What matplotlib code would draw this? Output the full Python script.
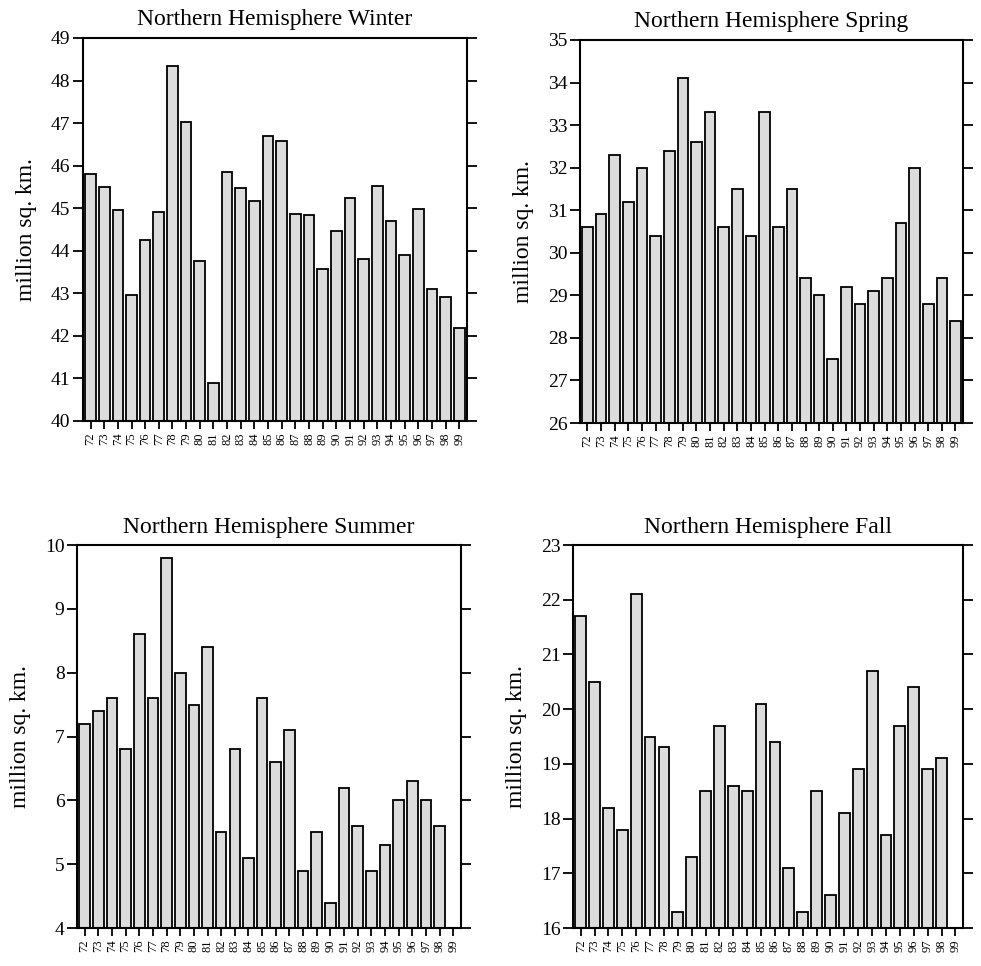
import matplotlib.pyplot as plt
import numpy as np

years = [str(y)[-2:] for y in range(1972, 2000)]

winter = [45.8, 45.5, 44.95, 42.97, 44.25, 44.9, 48.33, 47.03, 43.75, 40.9,
          45.84, 45.48, 45.17, 46.7, 46.59, 44.87, 44.83, 43.57, 44.47, 45.23,
          43.81, 45.53, 44.7, 43.89, 44.98, 43.1, 42.91, 42.19]
spring = [30.6, 30.9, 32.3, 31.2, 32.0, 30.4, 32.4, 34.1, 32.6, 33.3,
          30.6, 31.5, 30.4, 33.3, 30.6, 31.5, 29.4, 29.0, 27.5, 29.2,
          28.8, 29.1, 29.4, 30.7, 32.0, 28.8, 29.4, 28.4]
summer = [7.2, 7.4, 7.6, 6.8, 8.6, 7.6, 9.8, 8.0, 7.5, 8.4,
          5.5, 6.8, 5.1, 7.6, 6.6, 7.1, 4.9, 5.5, 4.4, 6.2,
          5.6, 4.9, 5.3, 6.0, 6.3, 6.0, 5.6, np.nan]
fall = [21.7, 20.5, 18.2, 17.8, 22.1, 19.5, 19.3, 16.3, 17.3, 18.5,
        19.7, 18.6, 18.5, 20.1, 19.4, 17.1, 16.3, 18.5, 16.6, 18.1,
        18.9, 20.7, 17.7, 19.7, 20.4, 18.9, 19.1, np.nan]

plt.rcParams['font.family'] = ['Liberation Serif', 'DejaVu Serif']

fig = plt.figure(figsize=(9.81, 9.66), dpi=100)

panels = [
    # title, data, ylim, rect
    ("Northern Hemisphere Winter", winter, (40, 49), [0.0846, 0.5642, 0.3914, 0.3965]),
    ("Northern Hemisphere Spring", spring, (26, 35), [0.5912, 0.5621, 0.3904, 0.3965]),
    ("Northern Hemisphere Summer", summer, (4, 10), [0.0785, 0.0393, 0.3914, 0.3965]),
    ("Northern Hemisphere Fall", fall, (16, 23), [0.5841, 0.0393, 0.3976, 0.3965]),
]

x = np.arange(len(years))
for title, data, ylim, rect in panels:
    ax = fig.add_axes(rect)
    vals = np.array(data, dtype=float)
    ok = ~np.isnan(vals)
    ax.bar(x[ok], vals[ok] - ylim[0], bottom=ylim[0], width=0.78,
           color='#dcdcdc', edgecolor='black', linewidth=1.3)
    ax.set_ylim(*ylim)
    ax.set_xlim(-0.55, len(years) - 0.45)
    ax.set_xticks(x)
    ax.set_xticklabels(years, rotation=90, fontsize=9)
    ax.set_yticks(np.arange(ylim[0], ylim[1] + 1, 1))
    ax.tick_params(axis='y', which='both', left=True, right=True, direction='out',
                   length=7, width=1.3, labelsize=14, pad=2)
    ax.tick_params(axis='x', direction='out', length=6, width=1.3, pad=2)
    for s in ax.spines.values():
        s.set_linewidth(1.5)
    ax.set_title(title, fontsize=17, pad=9)
    ax.set_ylabel("million sq. km.", fontsize=17, labelpad=10)

fig.savefig("out.png", dpi=100)
